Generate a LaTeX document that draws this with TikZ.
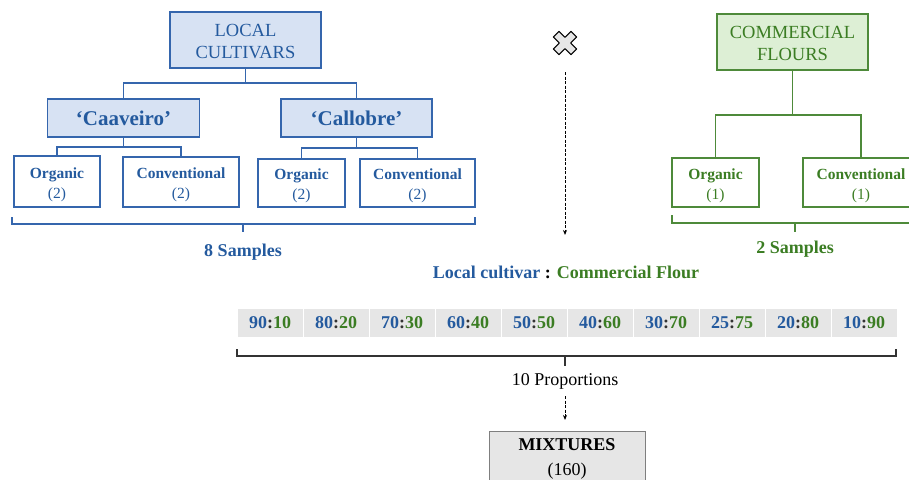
\documentclass[tikz,border=0pt]{standalone}
\usepackage{fontspec}
\setmainfont{Liberation Serif}
\usetikzlibrary{arrows.meta}
\definecolor{blueT}{HTML}{245A9E}
\definecolor{blueB}{HTML}{3566AD}
\definecolor{blueF}{HTML}{D7E2F3}
\definecolor{greenT}{HTML}{3B7D23}
\definecolor{greenB}{HTML}{4E8A3A}
\definecolor{greenF}{HTML}{DDEFD5}
\definecolor{greyF}{HTML}{E6E6E6}
\definecolor{greyB}{HTML}{7F7F7F}
\definecolor{lineK}{HTML}{333333}
\begin{document}
\begin{tikzpicture}[x=1pt,y=-1pt,
  topbox/.style={draw, line width=1.4pt, inner sep=0pt, align=center, font=\fontsize{18.5}{22}\selectfont},
  midbox/.style={draw=blueB, fill=blueF, line width=1.4pt, inner sep=0pt, text=blueT, font=\bfseries\fontsize{21}{24}\selectfont},
  leafbox/.style={draw, fill=white, line width=1.2pt, inner sep=0pt, align=center, font=\fontsize{15.5}{20}\selectfont},
  bluelink/.style={draw=blueB, line width=1.4pt},
  greenlink/.style={draw=greenB, line width=1.4pt},
  brk/.style={line width=1.2pt},
  lbl/.style={inner sep=0pt, font=\bfseries\fontsize{18}{22}\selectfont},
  cell/.style={fill=greyF, minimum width=65pt, minimum height=28pt, inner sep=0pt, font=\bfseries\fontsize{18}{22}\selectfont},
  darr/.style={draw=black, line width=1pt, dash pattern=on 3pt off 1.5pt, -{Stealth[length=5pt,width=4pt]}}
]
\useasboundingbox (0,0) rectangle (909,479);

% ---- local cultivars tree
\node[topbox, draw=blueB, fill=blueF, text=blueT, minimum width=151pt, minimum height=56pt] (lc) at (245.5,40) {\rule{0pt}{16pt}LOCAL\\CULTIVARS};
\node[midbox, minimum width=152pt, minimum height=38pt] (cav) at (123.5,118) {‘Caaveiro’};
\node[midbox, minimum width=151pt, minimum height=38pt] (cal) at (356.5,118) {‘Callobre’};
\node[leafbox, draw=blueB, text=blueT, minimum width=86pt, minimum height=51pt] (o1) at (57,181.5) {\rule{0pt}{17pt}\textbf{Organic}\\(2)};
\node[leafbox, draw=blueB, text=blueT, minimum width=116pt, minimum height=50pt] (c1) at (181,182) {\rule{0pt}{17pt}\textbf{Conventional}\\(2)};
\node[leafbox, draw=blueB, text=blueT, minimum width=87pt, minimum height=48pt] (o2) at (301.5,183) {\rule{0pt}{17pt}\textbf{Organic}\\(2)};
\node[leafbox, draw=blueB, text=blueT, minimum width=115pt, minimum height=48pt] (c2) at (417.5,183) {\rule{0pt}{17pt}\textbf{Conventional}\\(2)};

\coordinate (j1) at (245.5,83);
\coordinate (j2) at (123.5,147);
\coordinate (j3) at (356.5,148);
\draw[bluelink] (lc.south) -- (j1);
\draw[bluelink] (cav.north) |- (j1) -| (cal.north);
\draw[bluelink] (cav.south) -- (j2);
\draw[bluelink] (o1.north) |- (j2) -| (c1.north);
\draw[bluelink] (cal.south) -- (j3);
\draw[bluelink] (o2.north) |- (j3) -| (c2.north);

\coordinate (b1a) at (12,217);
\coordinate (b1b) at (475,217);
\coordinate (b1m) at (243,224);
\draw[brk, blueB] (b1a) -- (12,224) -- (475,224) -- (b1b);
\draw[brk, blueB] (b1m) -- ++(0,8);
\node[lbl, text=blueT] (s8) at (243,252) {8 Samples};

% ---- commercial flours tree
\node[topbox, draw=greenB, fill=greenF, text=greenT, minimum width=151pt, minimum height=56pt] (cf) at (792.5,42) {\rule{0pt}{16pt}COMMERCIAL\\FLOURS};
\node[leafbox, draw=greenB, text=greenT, minimum width=87pt, minimum height=49pt] (go) at (715.5,182.5) {\rule{0pt}{17pt}\textbf{Organic}\\(1)};
\node[leafbox, draw=greenB, text=greenT, minimum width=116pt, minimum height=49pt] (gc) at (861,182.5) {\rule{0pt}{17pt}\textbf{Conventional}\\(1)};
\coordinate (j4) at (792.5,115);
\draw[greenlink] (cf.south) -- (j4);
\draw[greenlink] (go.north) |- (j4) -| (gc.north);

\coordinate (b2a) at (672,215);
\coordinate (b2m) at (795,223);
\draw[brk, greenB] (b2a) -- (672,223) -- (925,223);
\draw[brk, greenB] (b2m) -- ++(0,9);
\node[lbl, text=greenT] (s2) at (795,249) {2 Samples};

% ---- cross mark and arrow
\begin{scope}[shift={(565,43)}, rotate=45]
\draw[fill=greyF, line width=1.1pt, line join=round] (-4,-12.5) -- (4,-12.5) -- (4,-4) -- (12.5,-4) -- (12.5,4) -- (4,4) -- (4,12.5) -- (-4,12.5) -- (-4,4) -- (-12.5,4) -- (-12.5,-4) -- (-4,-4) -- cycle;
\end{scope}
\coordinate (xm) at (565,72);
\node[lbl] (ratio) at (566,272) {\textcolor{blueT}{Local cultivar} : \textcolor{greenT}{Commercial Flour}};
\draw[darr] (xm) -- (565,235);

% ---- proportions strip
\foreach \a/\b [count=\i from 0] in {90/10,80/20,70/30,60/40,50/50,40/60,30/70,25/75,20/80,10/90}{
  \node[cell] (r\i) at (270+66*\i,323) {\textcolor{blueT}{\a}\textcolor{lineK}{:}\textcolor{greenT}{\b}};
}
\coordinate (b3m) at (565,356);
\draw[brk, lineK] (237,349) -- (237,356) -- (896,356) -- (896,349);
\draw[brk, lineK] (b3m) -- ++(0,10);
\node[inner sep=0pt, font=\fontsize{18}{22}\selectfont] (p10) at (565,381) {10 Proportions};
\coordinate (pa) at (565,396);
\coordinate (pb) at (565,420);
\draw[darr] (pa) -- (pb);

% ---- mixtures
\node[draw=greyB, fill=greyF, line width=1pt, anchor=north, minimum width=156pt, minimum height=60pt, inner sep=0pt, align=center, font=\fontsize{18}{25}\selectfont, text depth=0pt] (mix) at (567,431) {\rule{0pt}{19pt}\textbf{MIXTURES}\\(160)\\[10pt]};
\end{tikzpicture}
\end{document}
